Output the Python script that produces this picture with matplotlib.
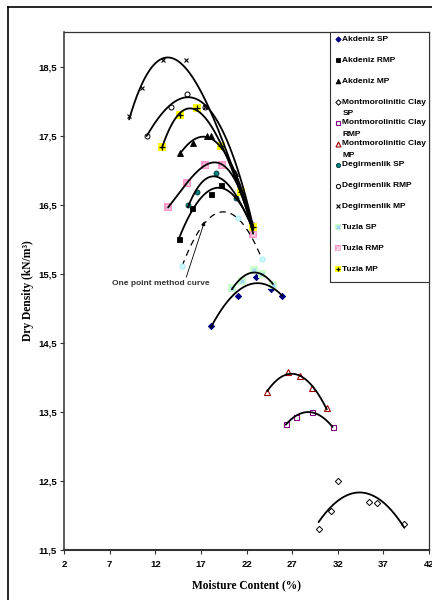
import numpy as np
import matplotlib
matplotlib.use('Agg')
import matplotlib.pyplot as plt
from matplotlib.lines import Line2D
from matplotlib.patches import Rectangle

# Moisture content (%) / dry density (kN/m3).
akdeniz_sp_w = [18.1, 21.05, 23.05, 24.7, 25.9]
akdeniz_sp_d = [14.74, 15.18, 15.45, 15.28, 15.18]
akdeniz_rmp_w = [14.6, 16.05, 18.1, 19.2, 22.7]
akdeniz_rmp_d = [16.0, 16.45, 16.66, 16.78, 16.15]
akdeniz_mp_w = [14.7, 16.13, 17.66, 18.1, 20.7, 22.7]
akdeniz_mp_d = [17.25, 17.39, 17.49, 17.49, 16.96, 16.18]
mont_sp_w = [29.9, 31.3, 32.0, 35.4, 36.35, 39.3]
mont_sp_d = [11.8, 12.07, 12.5, 12.2, 12.18, 11.88]
mont_rmp_w = [26.3, 27.4, 29.17, 31.43]
mont_rmp_d = [13.32, 13.43, 13.5, 13.28]
mont_mp_w = [24.26, 26.5, 27.9, 29.17, 30.8]
mont_mp_d = [13.79, 14.07, 14.02, 13.85, 13.55]
degir_sp_w = [15.58, 16.6, 18.7, 20.9, 22.7]
degir_sp_d = [16.49, 16.68, 16.96, 16.59, 16.15]
degir_rmp_w = [11.07, 13.73, 15.48, 17.49, 22.7]
degir_rmp_d = [17.5, 17.92, 18.1, 17.92, 16.2]
degir_mp_w = [9.14, 10.6, 12.9, 15.4, 17.49, 22.7]
degir_mp_d = [17.78, 18.19, 18.6, 18.6, 17.92, 16.2]
tuzla_sp_w = [20.4, 21.5, 22.87, 23.7, 24.9]
tuzla_sp_d = [15.3, 15.39, 15.55, 15.5, 15.34]
tuzla_rmp_w = [13.4, 15.47, 17.4, 19.3, 22.73]
tuzla_rmp_d = [16.46, 16.81, 17.07, 17.08, 16.08]
tuzla_mp_w = [12.74, 14.68, 16.55, 19.2, 21.4, 22.69]
tuzla_mp_d = [17.33, 17.8, 17.9, 17.35, 16.68, 16.17]
one_point_w = [14.94, 21.05, 23.7]
one_point_d = [15.61, 16.3, 15.71]

x_ticks = [2, 7, 12, 17, 22, 27, 32, 37, 42]
y_ticks = [11.5, 12.5, 13.5, 14.5, 15.5, 16.5, 17.5, 18.5]

SANS = 'Liberation Sans'
SERIF = 'Liberation Serif'

# marker styles: list of (marker, size, face, edge, edge width) layers
STYLES = {
    'Akdeniz SP': [('D', 3.2, '#000080', '#000080', 0.6)],
    'Akdeniz RMP': [('s', 3.6, 'black', 'black', 0.6)],
    'Akdeniz MP': [('^', 4.0, 'black', 'black', 0.6)],
    'Montmorolinitic Clay\nSP': [('D', 3.2, 'white', 'black', 0.7)],
    'Montmorolinitic Clay\nRMP': [('s', 3.6, 'white', '#800080', 0.8)],
    'Montmorolinitic Clay\nMP': [('^', 4.2, 'white', '#A00000', 0.8)],
    'Degirmenlik SP': [('o', 3.6, '#008080', '#003838', 0.6)],
    'Degirmenlik RMP': [('o', 3.6, 'white', 'black', 0.7)],
    'Degirmenlik MP': [('x', 3.2, 'black', 'black', 0.8)],
    'Tuzla SP': [('s', 6.0, '#CCFFCC', '#CCFFCC', 0.0), ('x', 3.0, '#99CCFF', '#99CCFF', 0.8)],
    'Tuzla RMP': [('s', 6.0, '#FF99CC', '#FF99CC', 0.0), ('x', 3.0, '#E8E8E8', '#E8E8E8', 0.8)],
    'Tuzla MP': [('s', 6.0, '#FFFF00', '#FFFF00', 0.0), ('+', 4.0, 'black', 'black', 0.9)],
}

series = [
    ('Akdeniz SP', akdeniz_sp_w, akdeniz_sp_d, 2),
    ('Akdeniz RMP', akdeniz_rmp_w, akdeniz_rmp_d, 3),
    ('Akdeniz MP', akdeniz_mp_w, akdeniz_mp_d, 3),
    ('Montmorolinitic Clay\nSP', mont_sp_w, mont_sp_d, 2),
    ('Montmorolinitic Clay\nRMP', mont_rmp_w, mont_rmp_d, 2),
    ('Montmorolinitic Clay\nMP', mont_mp_w, mont_mp_d, 2),
    ('Degirmenlik SP', degir_sp_w, degir_sp_d, 3),
    ('Degirmenlik RMP', degir_rmp_w, degir_rmp_d, 3),
    ('Degirmenlik MP', degir_mp_w, degir_mp_d, 3),
    ('Tuzla SP', tuzla_sp_w, tuzla_sp_d, 2),
    ('Tuzla RMP', tuzla_rmp_w, tuzla_rmp_d, 3),
    ('Tuzla MP', tuzla_mp_w, tuzla_mp_d, 3),
]


def draw_marker(ax, x, y, name, **kw):
    for m, ms, fc, ec, mew in STYLES[name]:
        if m in ('x', '+'):
            ax.plot(x, y, ls='none', marker=m, ms=ms, color=fc, mew=mew, **kw)
        else:
            ax.plot(x, y, ls='none', marker=m, ms=ms, mfc=fc, mec=ec, mew=mew, **kw)


def trend(ax, w, d, deg, **kw):
    coef = np.polyfit(w, d, deg)
    xs = np.linspace(min(w), max(w), 200)
    ax.plot(xs, np.polyval(coef, xs), **kw)


fig = plt.figure(figsize=(4.32, 6.0), dpi=100)
ax = fig.add_axes([64 / 432, 1 - 550 / 600, 365 / 432, 518 / 600])

for name, w, d, deg in series:
    draw_marker(ax, w, d, name, zorder=2)
    trend(ax, w, d, deg, color='black', lw=1.3, zorder=3, solid_capstyle='round')

# one point method curve
trend(ax, one_point_w, one_point_d, 2, color='black', lw=0.9, ls=(0, (5, 4)), zorder=3)
ax.plot(one_point_w, one_point_d, ls='none', marker='o', ms=3.6, mfc='#CCFFFF',
        mec='#AEE8F5', mew=0.8, zorder=4)
ax.text(12.6, 15.36, 'One point method curve', ha='center', va='center', fontsize=6,
        fontweight='bold', family=SANS, color='#333333')
ax.annotate('', xy=(17.41, 16.26), xytext=(15.4, 15.45),
            arrowprops=dict(arrowstyle='-|>', color='black', lw=0.6,
                            mutation_scale=6, shrinkA=0, shrinkB=0))

ax.set_xlim(2, 42)
ax.set_ylim(11.5, 19)
ax.set_xticks(x_ticks)
ax.set_yticks(y_ticks)
ax.set_xticklabels([str(t) for t in x_ticks])
ax.set_yticklabels([f'{t:.1f}'.replace('.', ',') for t in y_ticks])
for lab in ax.get_xticklabels() + ax.get_yticklabels():
    lab.set_fontfamily(SANS)
    lab.set_fontweight('bold')
    lab.set_fontsize(6.8)
ax.tick_params(axis='both', direction='out', length=3, width=0.8, color='#333333')
ax.tick_params(axis='y', pad=2)
ax.tick_params(axis='x', pad=4)
for side in ('left', 'bottom', 'top', 'right'):
    ax.spines[side].set_color('#333333')
ax.spines['left'].set_linewidth(1.1)
ax.spines['bottom'].set_linewidth(1.5)
ax.spines['top'].set_linewidth(0.9)
ax.spines['right'].set_linewidth(0.9)

ax.set_xlabel('Moisture Content (%)', family=SERIF, fontweight='bold', fontsize=8.3)
ax.set_ylabel('Dry Density (kN/m³)', family=SERIF, fontweight='bold', fontsize=8.3)
ax.xaxis.set_label_coords(0.5, -0.056)
ax.yaxis.set_label_coords(-0.083, 0.5)

# legend box, drawn by hand so two-line labels hang under the first line
leg_left = (330.3 - 64) / 365
leg_bottom = 1 - (281.7 - 32) / 518
ax.add_patch(Rectangle((leg_left, leg_bottom), 1 - leg_left, 1 - leg_bottom,
                       transform=ax.transAxes, facecolor='white', edgecolor='#333333',
                       lw=0.8, zorder=5, clip_on=False))
row_h = 20.9 / 518
line_h = 11.3 / 518
y0 = 1 - (39.3 - 32) / 518
mx = (337.7 - 64) / 365
tx = (342.5 - 64) / 365
for i, (name, *_rest) in enumerate(series):
    yy = y0 - i * row_h
    layers = STYLES[name]
    for m, ms, fc, ec, mew in layers:
        scale = 0.8 if layers[0][0] == 's' and len(layers) > 1 else 0.85
        if m in ('x', '+'):
            ax.plot([mx], [yy], transform=ax.transAxes, ls='none', marker=m, ms=ms * scale,
                    color=fc, mew=mew, zorder=6, clip_on=False)
        else:
            ax.plot([mx], [yy], transform=ax.transAxes, ls='none', marker=m, ms=ms * scale,
                    mfc=fc, mec=ec, mew=mew, zorder=6, clip_on=False)
    for j, part in enumerate(name.split('\n')):
        ax.text(tx, yy - j * line_h, part, transform=ax.transAxes, ha='left', va='center',
                fontsize=6, fontweight='bold', family=SANS, color='black', zorder=7)

# outer frame of the original figure
fig.add_artist(Line2D([8 / 432, 8 / 432], [0, 1 - 7 / 600], color='black', lw=1.2))
fig.add_artist(Line2D([8 / 432, 1], [1 - 7 / 600, 1 - 7 / 600], color='black', lw=1.2))

fig.savefig('out.png', dpi=100)
